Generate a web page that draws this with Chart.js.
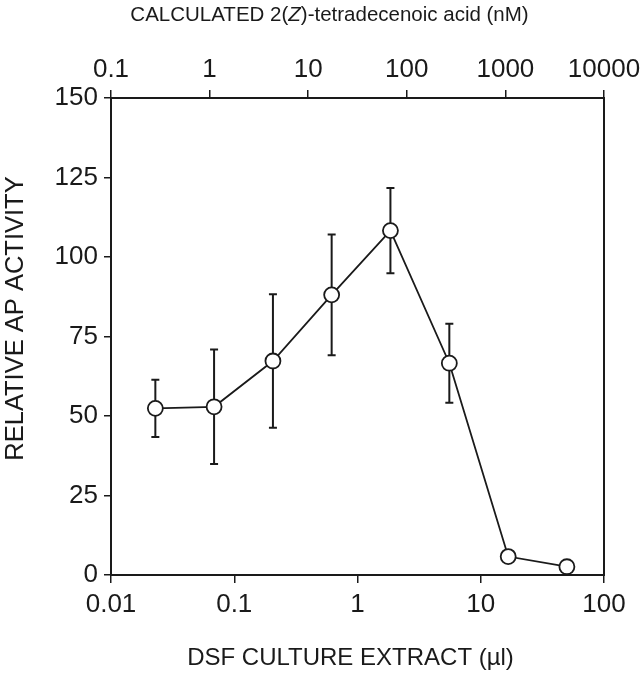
<!DOCTYPE html>
<html>
<head>
<meta charset="utf-8">
<script src="https://cdn.jsdelivr.net/npm/chart.js@4.4.0/dist/chart.umd.min.js"></script>
<style>
  html, body { margin: 0; padding: 0; background: #fff; }
</style>
</head>
<body>
<canvas id="chart" width="642" height="679"></canvas>
<script>
// DSF culture extract (µl) on the bottom log axis
const extractUl = [0.0229, 0.0686, 0.206, 0.617, 1.85, 5.56, 16.7, 50];
// relative AP activity
const activity = [52.4, 52.9, 67.3, 88.1, 108.3, 66.6, 5.8, 2.6];
const errUp = [9, 18, 21, 19, 13.4, 12.4, 0, 0];
const errDown = [9, 18, 21, 19, 13.4, 12.4, 0, 0];

const bottomTicks = [0.01, 0.1, 1, 10, 100];
const topTicks = [0.1, 1, 10, 100, 1000, 10000];

const INK = '#1a1a1a';
const FONT = 'Liberation Sans, Arial, sans-serif';

const errorBars = {
  id: 'errorBars',
  beforeDatasetsDraw(chart) {
    const { ctx, scales: { x, y } } = chart;
    ctx.save();
    ctx.strokeStyle = INK;
    ctx.lineWidth = 2;
    extractUl.forEach((v, i) => {
      if (!errUp[i] && !errDown[i]) return;
      const px = x.getPixelForValue(v);
      const top = y.getPixelForValue(activity[i] + errUp[i]);
      const bot = y.getPixelForValue(activity[i] - errDown[i]);
      ctx.beginPath();
      ctx.moveTo(px, top); ctx.lineTo(px, bot);
      ctx.moveTo(px - 4, top); ctx.lineTo(px + 4, top);
      ctx.moveTo(px - 4, bot); ctx.lineTo(px + 4, bot);
      ctx.stroke();
    });
    ctx.restore();
  }
};

// axis titles (top one has an italic Z)
const titles = {
  id: 'titles',
  afterDraw(chart) {
    const { ctx, chartArea: a } = chart;
    const cx = (a.left + a.right) / 2;
    const cy = (a.top + a.bottom) / 2;
    ctx.save();
    ctx.fillStyle = INK;
    ctx.textBaseline = 'middle';

    ctx.font = '24px ' + FONT;
    ctx.textAlign = 'center';
    ctx.fillText('DSF CULTURE EXTRACT (µl)', cx - 7, 658);

    ctx.save();
    ctx.font = '25.5px ' + FONT;
    ctx.translate(16, cy - 18);
    ctx.rotate(-Math.PI / 2);
    ctx.fillText('RELATIVE AP ACTIVITY', 0, 0);
    ctx.restore();

    const parts = [
      ['CALCULATED 2(', '20.5px ' + FONT],
      ['Z', 'italic 20.5px ' + FONT],
      [')-tetradecenoic acid (nM)', '20.5px ' + FONT],
    ];
    let w = 0;
    parts.forEach(([t, f]) => { ctx.font = f; w += ctx.measureText(t).width; });
    let tx = cx - 28 - w / 2;
    ctx.textAlign = 'left';
    parts.forEach(([t, f]) => {
      ctx.font = f;
      ctx.fillText(t, tx, 15);
      tx += ctx.measureText(t).width;
    });
    ctx.restore();
  }
};

const tickFont = { family: FONT, size: 26 };
const logAxis = (pos, min, max, ticks, size, pad) => ({
  type: 'logarithmic',
  position: pos,
  min, max,
  afterBuildTicks: (s) => { s.ticks = ticks.map((v) => ({ value: v })); },
  afterFit: (s) => {
    s.height = size;
    // labels may hang over the edges, keep the plot box fixed
    s.paddingLeft = 0;
    s.paddingRight = 0;
  },
  ticks: {
    callback: (v) => String(v),
    font: tickFont, color: INK, padding: pad,
    maxRotation: 0, autoSkip: false,
  },
  grid: { drawOnChartArea: false, drawTicks: true, tickLength: 8, color: INK, lineWidth: 1.5 },
  border: { color: INK, width: 2 },
});

new Chart(document.getElementById('chart'), { // eslint-disable-line no-new
  type: 'line',
  data: {
    datasets: [{
      data: extractUl.map((x, i) => ({ x, y: activity[i] })),
      xAxisID: 'x',
      yAxisID: 'y',
      borderColor: INK,
      borderWidth: 1.8,
      pointRadius: 7.5,
      pointBackgroundColor: '#fff',
      pointBorderColor: INK,
      pointBorderWidth: 1.8,
      tension: 0,
      clip: false,
    }],
  },
  options: {
    responsive: false,
    animation: false,
    devicePixelRatio: 1,
    layout: { padding: 0 },
    plugins: { legend: { display: false }, tooltip: { enabled: false } },
    scales: {
      x: logAxis('bottom', 0.01, 100, bottomTicks, 104, 6),
      x2: logAxis('top', 0.1, 10000, topTicks, 98, 5),
      y: {
        type: 'linear',
        position: 'left',
        min: 0, max: 150,
        afterFit: (s) => { s.width = 111; s.paddingTop = 0; s.paddingBottom = 0; },
        ticks: { stepSize: 25, font: tickFont, color: INK, padding: 6 },
        grid: { drawOnChartArea: false, drawTicks: true, tickLength: 7, color: INK, lineWidth: 1.5 },
        border: { color: INK, width: 2 },
      },
      y2: {
        type: 'linear',
        position: 'right',
        min: 0, max: 150,
        afterFit: (s) => { s.width = 38; },
        ticks: { display: false },
        grid: { display: false },
        border: { color: INK, width: 2 },
      },
    },
  },
  plugins: [errorBars, titles],
});
</script>
</body>
</html>
